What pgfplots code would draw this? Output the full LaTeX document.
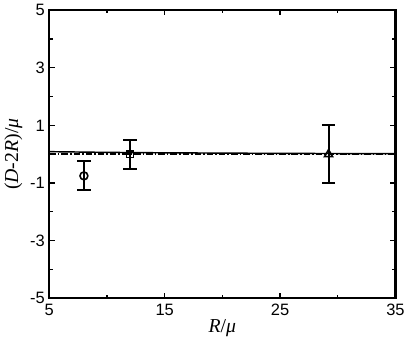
\documentclass[border=0pt]{standalone}
\usepackage{fontspec}
\setmainfont{Liberation Serif}
\setsansfont{Liberation Sans}
\usepackage{pgfplots}
\pgfplotsset{compat=1.18}

\begin{document}
\begin{tikzpicture}
\begin{axis}[
  width=263pt, height=219pt, scale only axis,
  xmin=5, xmax=35, ymin=-5, ymax=5,
  xtick={5,15,25,35}, minor xtick={10,20,30},
  ytick={-5,-3,-1,1,3,5}, minor ytick={-4,-2,0,2,4},
  tick align=inside,
  major tick length=4pt, minor tick length=2.5pt,
  every tick/.style={black, line width=0.9pt},
  axis line style={line width=1.6pt},
  /pgf/number format/assume math mode=true,
  ticklabel style={font=\sffamily\fontsize{12.5}{12.5}\selectfont},
  xticklabel style={yshift=-1pt},
  xlabel={\fontsize{15}{15}\selectfont\textit{R}/\textit{μ}},
  ylabel={\fontsize{15}{15}\selectfont(\textit{D}-2\textit{R})/\textit{μ}},
  xlabel style={yshift=4pt},
  ylabel style={yshift=-1pt},
]
% solid curve
\addplot[black, line width=1.1pt] coordinates {
  (5,0.09)(10,0.065)(15,0.05)(20,0.04)(25,0.03)(30,0.025)(35,0.02)};
% dash-dot reference
\addplot[black, line width=1.4pt, dash pattern=on 5pt off 1.5pt on 1.2pt off 1.5pt] coordinates {
  (5,0)(35,0)};

\pgfplotsset{
  errstyle/.style={black, only marks, line width=1pt,
    mark options={fill=white, solid, line width=1.2pt},
    error bars/y dir=both, error bars/y explicit,
    error bars/error bar style={line width=1.5pt},
    error bars/error mark options={rotate=90, mark size=5pt, line width=1.5pt}}
}
\addplot[errstyle, mark=o, mark size=3pt] coordinates {(8,-0.75) +- (0,0.5)};
\addplot[errstyle, mark=square, mark size=2.6pt] coordinates {(12,0) +- (0,0.5)};
\addplot[errstyle, mark=triangle, mark size=3.5pt] coordinates {(29.2,0) +- (0,1)};
\end{axis}
\end{tikzpicture}
\end{document}
